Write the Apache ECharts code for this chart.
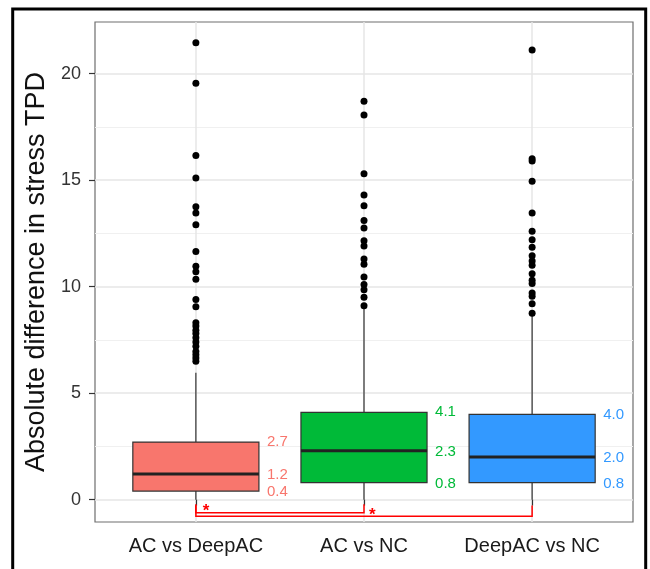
<!DOCTYPE html>
<html><head><meta charset="utf-8">
<script src="https://cdn.jsdelivr.net/npm/echarts@6/dist/echarts.min.js"></script>
<style>html,body{margin:0;padding:0;background:#fff}#chart{width:650px;height:569px}</style>
</head><body><div id="chart"></div>
<script>
// ---- data ----
const categories = ['AC vs DeepAC', 'AC vs NC', 'DeepAC vs NC'];
const whiskerLow = [0.0, 0.0, 0.0];
const q1 = [0.4, 0.8, 0.8];
const medians = [1.2, 2.3, 2.0];
const q3 = [2.7, 4.1, 4.0];
const whiskerHigh = [5.95, 8.95, 8.7];
const outliersACvsDeepAC = [21.45, 19.55, 16.15, 15.1, 13.75, 13.45, 12.9, 11.65, 10.95, 10.7, 10.35, 9.4, 9.05, 8.3, 8.15, 7.95, 7.8, 7.6, 7.4, 7.2, 6.95, 6.8, 6.65, 6.5];
const outliersACvsNC = [18.7, 18.05, 15.3, 14.3, 13.8, 13.1, 12.75, 12.15, 11.9, 11.3, 11.05, 10.45, 10.1, 9.85, 9.5, 9.1];
const outliersDeepACvsNC = [21.1, 16.0, 15.9, 14.95, 13.45, 12.6, 12.2, 11.85, 11.45, 11.2, 11.0, 10.6, 10.3, 10.15, 9.7, 9.55, 9.2, 8.75];
const yTicks = [0, 5, 10, 15, 20];
const comparisons = [['AC vs DeepAC', 'AC vs NC'], ['AC vs DeepAC', 'DeepAC vs NC']];
const significance = ['*', '*'];

// ---- styling ----
const FONT = "'Liberation Sans', Arial, Helvetica, sans-serif";
const boxFill = ['#F8766D', '#00BA38', '#3399FF'];
const labelColor = ['#F8766D', '#00BA38', '#3399FF'];
const boxWidth = 0.75;
const bracketLevel = [-0.61, -0.78];
const bracketTop = [-0.22, -0.27];
const starOffsetX = [0.06, 1.05];

const outlierSets = [outliersACvsDeepAC, outliersACvsNC, outliersDeepACvsNC];
const outlierData = [];
outlierSets.forEach((arr, i) => arr.forEach(v => outlierData.push([i + 1, v])));
const boxData = categories.map((c, i) => [i + 1, whiskerLow[i], q1[i], medians[i], q3[i], whiskerHigh[i]]);
const bracketData = comparisons.map((c, k) => [categories.indexOf(c[0]) + 1, categories.indexOf(c[1]) + 1, k]);

function txt(x, y, s, color) {
  return {type: 'text', x: x, y: y, style: {text: s, fill: color, font: '15px ' + FONT, textAlign: 'left', textVerticalAlign: 'middle'}};
}

function renderBox(params, api) {
  const i = params.dataIndex;
  const x = api.value(0);
  const half = api.size([boxWidth, 0])[0] / 2;
  const pLo = api.coord([x, api.value(1)]);
  const pQ1 = api.coord([x, api.value(2)]);
  const pMed = api.coord([x, api.value(3)]);
  const pQ3 = api.coord([x, api.value(4)]);
  const pHi = api.coord([x, api.value(5)]);
  const cx = pQ1[0];
  const lx = cx + half + 8;
  const ln = {stroke: '#333', lineWidth: 1.2};
  return {type: 'group', children: [
    {type: 'line', shape: {x1: cx, y1: pQ3[1], x2: cx, y2: pHi[1]}, style: ln},
    {type: 'line', shape: {x1: cx, y1: pQ1[1], x2: cx, y2: pLo[1]}, style: ln},
    {type: 'rect', shape: {x: cx - half, y: pQ3[1], width: 2 * half, height: pQ1[1] - pQ3[1]}, style: {fill: boxFill[i], stroke: '#333', lineWidth: 1.2}},
    {type: 'line', shape: {x1: cx - half, y1: pMed[1], x2: cx + half, y2: pMed[1]}, style: {stroke: '#222', lineWidth: 3}},
    txt(lx, pQ3[1], api.value(4).toFixed(1), labelColor[i]),
    txt(lx, pMed[1] + 1, api.value(3).toFixed(1), labelColor[i]),
    txt(lx, pQ1[1] + 1, api.value(2).toFixed(1), labelColor[i])
  ]};
}

function renderBracket(params, api) {
  const k = api.value(2);
  const a = api.value(0), b = api.value(1);
  const pA = api.coord([a, bracketLevel[k]]);
  const pB = api.coord([b, bracketLevel[k]]);
  const top = api.coord([a, bracketTop[k]])[1];
  const st = {stroke: '#FF0000', lineWidth: 1.5};
  const sp = api.coord([a + starOffsetX[k], bracketLevel[k]]);
  return {type: 'group', children: [
    {type: 'polyline', shape: {points: [[pA[0], top], [pA[0], pA[1]], [pB[0], pB[1]], [pB[0], top]]}, style: Object.assign({fill: 'none'}, st)},
    {type: 'text', x: sp[0], y: sp[1] - 1, style: {text: significance[k], fill: '#FF0000', font: 'bold 17px ' + FONT, textAlign: 'center', textVerticalAlign: 'middle'}}
  ]};
}

const chart = echarts.init(document.getElementById('chart'), null, {renderer: 'canvas'});
chart.setOption({
  animation: false,
  backgroundColor: '#fff',
  textStyle: {fontFamily: FONT},
  grid: {left: 95, top: 22, width: 538, height: 500, show: true, borderColor: '#6e6e6e', borderWidth: 1.2, backgroundColor: '#fff', containLabel: false},
  xAxis: {
    type: 'value', min: 0.4, max: 3.6,
    axisLine: {show: false},
    axisTick: {show: true, length: 6, lineStyle: {color: '#333', width: 1.2}, customValues: [1, 2, 3]},
    axisLabel: {customValues: [1, 2, 3], formatter: v => categories[Math.round(v) - 1] || '', fontSize: 20, color: '#1a1a1a', margin: 14, fontFamily: FONT},
    splitLine: {show: true, lineStyle: {color: '#e6e6e6', width: 1.5}}
  },
  yAxis: {
    type: 'value', min: -1.05, max: 22.42,
    name: 'Absolute difference in stress TPD', nameLocation: 'middle', nameGap: 42,
    nameTextStyle: {fontSize: 27, color: '#111', fontFamily: FONT},
    axisLine: {show: false},
    axisTick: {show: true, length: 6, lineStyle: {color: '#333', width: 1.2}, customValues: yTicks},
    axisLabel: {customValues: yTicks, fontSize: 18, color: '#333', margin: 14, fontFamily: FONT},
    splitLine: {show: true, lineStyle: {color: '#e6e6e6', width: 1.5}},
    minorTick: {show: false, splitNumber: 2},
    minorSplitLine: {show: true, lineStyle: {color: '#f0f0f0', width: 1}}
  },
  series: [
    {type: 'custom', renderItem: renderBox, data: boxData, encode: {x: 0, y: [1, 2, 3, 4, 5]}, z: 2},
    {type: 'scatter', data: outlierData, symbolSize: 7, itemStyle: {color: '#000', opacity: 1}, z: 3},
    {type: 'custom', renderItem: renderBracket, data: bracketData, encode: {x: [0, 1], y: 2}, z: 4}
  ],
  graphic: [
    {type: 'rect', shape: {x: 12.7, y: 9, width: 633, height: 600}, style: {fill: 'none', stroke: '#000', lineWidth: 3}, silent: true, z: 100}
  ]
});
</script></body></html>
